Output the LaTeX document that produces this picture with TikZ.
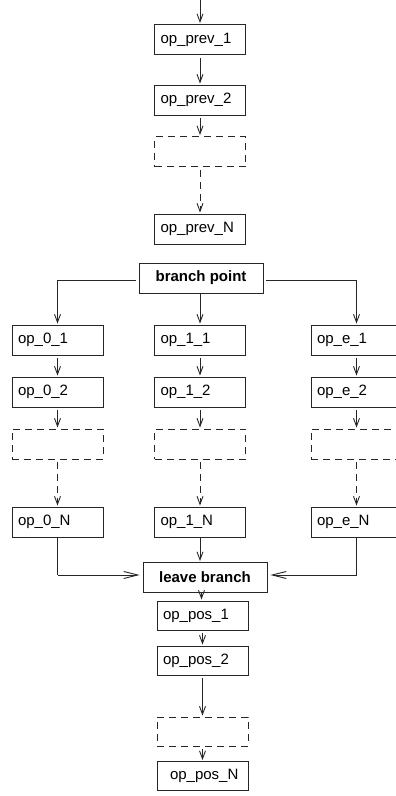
\documentclass[tikz,border=0pt]{standalone}
\usepackage{fontspec}
\setmainfont{Liberation Sans}
\usetikzlibrary{arrows.meta}
\begin{document}
\begin{tikzpicture}[x=1pt,y=-1pt,
  lw/.style={line width=0.9pt, draw=black!85},
  op/.style={lw, minimum height=30pt, text width=79pt, inner xsep=6pt, inner ysep=0pt, align=left, font=\fontsize{15}{18}\selectfont},
  dbox/.style={lw, dash pattern=on 7pt off 5pt, minimum width=91pt, minimum height=30pt, inner sep=0pt},
  bpbox/.style={lw, minimum width=124pt, minimum height=30pt, inner sep=0pt, font=\fontsize{15}{18}\selectfont\bfseries},
  arr/.style={lw, -{Straight Barb[length=8pt,width=6pt]}, shorten <=3pt, shorten >=1pt},
  darr/.style={arr, dash pattern=on 7pt off 5pt},
  sarr/.style={lw, -{Straight Barb[length=14pt,width=7pt]}, shorten >=3pt},
  barr/.style={lw, -{Straight Barb[length=8pt,width=6pt]}, shorten <=3pt, shorten >=1pt}
]
\clip (0,0) rectangle (396,796);
\coordinate (top) at (200,0);
% upper column
\node[op] (pv1) at (200,39.5) {op\_prev\_1};
\node[op] (pv2) at (200,100) {op\_prev\_2};
\node[dbox] (pvd) at (200,151.5) {};
\node[op] (pvN) at (200,229) {op\_prev\_N};
\node[bpbox] (bp) at (201,278) {branch point};
% left column
\node[op] (a1) at (57.5,340) {op\_0\_1};
\node[op] (a2) at (57.5,392) {op\_0\_2};
\node[dbox] (ad) at (57.5,444) {};
\node[op] (aN) at (57.5,522) {op\_0\_N};
% middle column
\node[op] (b1) at (200,340) {op\_1\_1};
\node[op] (b2) at (200,392) {op\_1\_2};
\node[dbox] (bd) at (200,444) {};
\node[op] (bN) at (200,522) {op\_1\_N};
% right column
\node[op] (c1) at (356.5,340) {op\_e\_1};
\node[op] (c2) at (356.5,392) {op\_e\_2};
\node[dbox] (cd) at (356.5,444) {};
\node[op] (cN) at (356.5,522) {op\_e\_N};
% lower column
\node[bpbox] (lb) at (205,577.5) {leave branch};
\node[op, minimum height=29pt] (p1) at (202.5,615.5) {op\_pos\_1};
\node[op, minimum height=29pt] (p2) at (202.5,660.5) {op\_pos\_2};
\node[dbox, minimum height=29pt] (pd) at (202.5,731.5) {};
\node[op, minimum height=29pt] (pN) at (202.5,776) {\hspace*{7pt}op\_pos\_N};
% connectors upper
\draw[arr, shorten <=0pt] (top) -- (pv1.north);
\draw[arr] (pv1.south) -- (pv2.north);
\draw[arr] (pv2.south) -- (pvd.north);
\draw[darr] (pvd.south) -- (pvN.north);
% branch
\draw[arr, shorten <=0pt] (bp.south -| b1.north) -- (b1.north);
\draw[arr] (bp.west |- 0,280) -| (a1.north);
\draw[arr] (bp.east |- 0,280) -| (c1.north);
% columns
\foreach \c in {a,b,c}{
  \draw[arr] (\c1.south) -- (\c2.north);
  \draw[arr] (\c2.south) -- (\c d.north);
  \draw[darr] (\c d.south) -- (\c N.north);
}
% joins
\coordinate (lj) at (57.5,575);
\coordinate (rj) at (356.5,575);
\draw[lw] (aN.south) -- (lj);
\draw[sarr] (lj) -- (lb.west |- lj);
\draw[lw] (cN.south) -- (rj);
\draw[sarr] (rj) -- (lb.east |- rj);
\draw[arr, shorten <=1pt] (bN.south) -- (bN.south |- lb.north);
% lower
\draw[arr, shorten <=0pt] (lb.south -| 201.5,0) -- (p1.north -| 201.5,0);
\draw[arr] (p1.south) -- (p2.north);
\draw[arr] (p2.south) -- (pd.north);
\draw[arr] (pd.south) -- (pN.north);
\end{tikzpicture}
\end{document}
